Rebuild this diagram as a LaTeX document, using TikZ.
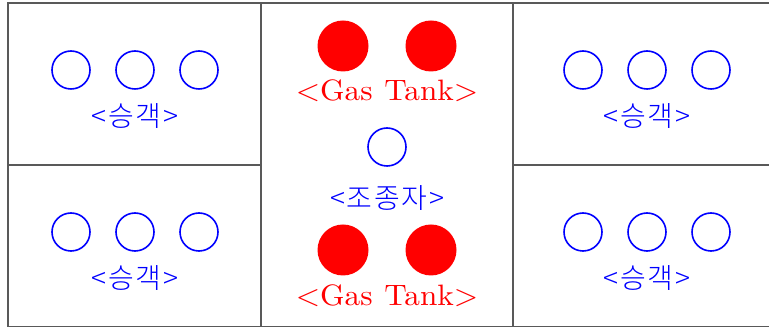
\documentclass[tikz,border=0pt]{standalone}
\usepackage{fontspec}
\IfFontExistsTF{Noto Sans CJK KR Light}
  {\newfontfamily\krfont[LetterSpace=6]{Noto Sans CJK KR Light}}
  {\newfontfamily\krfont[LetterSpace=6]{Noto Sans CJK KR}}
\newfontfamily\gasfont[FakeStretch=1.06]{lmroman10-regular.otf}
\usetikzlibrary{positioning}

\begin{document}
\begin{tikzpicture}[x=1pt, y=-1pt,
    frame/.style={draw=black!65, line width=1.2pt},
    seat/.style={circle, draw=blue, line width=1.6pt, minimum size=38pt, inner sep=0pt},
    tank/.style={circle, fill=red, minimum size=51pt, inner sep=0pt},
    seatlabel/.style={text=blue, font=\krfont\fontsize{28}{32}\selectfont, inner sep=0pt},
    tanklabel/.style={text=red, font=\gasfont\fontsize{29.5}{34}\selectfont, inner sep=0pt}]
        \useasboundingbox (0,0) rectangle (769,328);

        % Frame
        \coordinate (TL) at (8,3);
        \coordinate (TR) at (769,3);
        \coordinate (BL) at (8,326.5);
        \coordinate (BR) at (769,326.5);
        \draw[frame] (TR) -- (TL) -- (BL) -- (BR);
        \draw[frame] (261,3) -- (261,326.5);
        \draw[frame] (513,3) -- (513,326.5);
        \draw[frame] (8,165) -- (261,165);
        \draw[frame] (513,165) -- (769,165);

        % Passengers, top left
        \node[seat] (p1) at (71,70) {};
        \node[seat] (p2) at (135,70) {};
        \node[seat] (p3) at (199,70) {};
        \node[seatlabel] (l1) at (135,116) {<승객>};

        % Passengers, bottom left
        \node[seat] (p4) at (71,232) {};
        \node[seat] (p5) at (135,232) {};
        \node[seat] (p6) at (199,232) {};
        \node[seatlabel] (l2) at (135,278) {<승객>};

        % Passengers, top right
        \node[seat] (p7) at (583,70) {};
        \node[seat] (p8) at (647,70) {};
        \node[seat] (p9) at (711,70) {};
        \node[seatlabel] (l3) at (647,116) {<승객>};

        % Passengers, bottom right
        \node[seat] (p10) at (583,232) {};
        \node[seat] (p11) at (647,232) {};
        \node[seat] (p12) at (711,232) {};
        \node[seatlabel] (l4) at (647,278) {<승객>};

        % Gas tanks, top
        \node[tank] (g1) at (343,46) {};
        \node[tank] (g2) at (431,46) {};
        \node[tanklabel] (t1) at (387,91) {<Gas\hspace{0.4em}Tank>};

        % Pilot
        \node[seat] (pilot) at (387,147) {};
        \node[seatlabel] (l5) at (387,198) {<조종자>};

        % Gas tanks, bottom
        \node[tank] (g3) at (343,250) {};
        \node[tank] (g4) at (431,250) {};
        \node[tanklabel] (t2) at (387,296) {<Gas\hspace{0.4em}Tank>};
    \end{tikzpicture}
\end{document}
